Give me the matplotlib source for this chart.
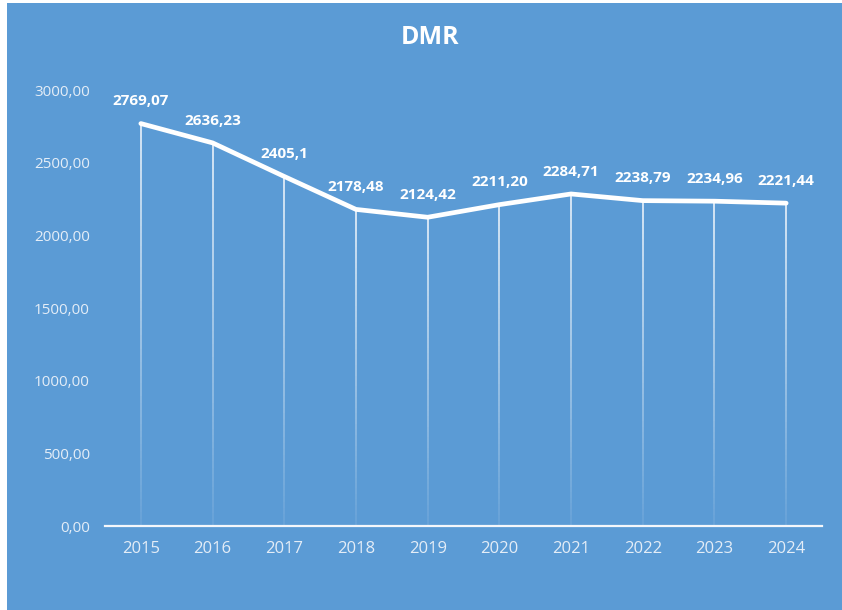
#!/usr/bin/env python3
"""DMR yearly trend, white line on an Excel-style blue panel."""
import matplotlib

matplotlib.use("Agg")
import matplotlib.pyplot as plt  # noqa: E402
import numpy as np  # noqa: E402
from matplotlib.collections import LineCollection  # noqa: E402
from matplotlib.patches import Rectangle  # noqa: E402

years = ["2015", "2016", "2017", "2018", "2019", "2020", "2021", "2022", "2023", "2024"]
values = [2769.07, 2636.23, 2405.10, 2178.48, 2124.42, 2211.20, 2284.71, 2238.79, 2234.96, 2221.44]
value_labels = ["2769,07", "2636,23", "2405,1", "2178,48", "2124,42",
                "2211,20", "2284,71", "2238,79", "2234,96", "2221,44"]
y_ticks = [0, 500, 1000, 1500, 2000, 2500, 3000]

BLUE = "#5b9bd5"
TICK = "#e4edf7"
plt.rcParams["font.family"] = ["Open Sans", "DejaVu Sans"]

fig = plt.figure(figsize=(8.42, 6.10), dpi=100, facecolor="white")
fig.patches.append(Rectangle((7 / 842, 0), 1, 1 - 3 / 610, transform=fig.transFigure,
                             facecolor=BLUE, edgecolor="none", zorder=-5))
ax = fig.add_axes([105 / 842, 1 - 526 / 610, (822 - 105) / 842, (526 - 90) / 610])
ax.set_facecolor("none")

x = np.arange(len(years))

# drop lines fading out toward the axis
segs, cols = [], []
for xi, v in zip(x, values):
    ys = np.linspace(v, 0, 60)
    for a, (y0, y1) in enumerate(zip(ys[:-1], ys[1:])):
        segs.append([(xi, y0), (xi, y1)])
        cols.append((1, 1, 1, 0.95 - 0.85 * a / 58))
ax.add_collection(LineCollection(segs, colors=cols, linewidths=1.1, zorder=2))

ax.plot(x, values, color="white", linewidth=3.4, solid_capstyle="round",
        solid_joinstyle="round", zorder=3)

for xi, v, lab in zip(x, values, value_labels):
    ax.annotate(lab, (xi, v), xytext=(0, 16), textcoords="offset points",
                ha="center", va="center", fontsize=11, fontweight="bold", color="white")

ax.set_xlim(-0.5, len(years) - 0.5)
ax.set_ylim(0, 3000)
ax.set_xticks(x)
ax.set_xticklabels(years, fontsize=12, color=TICK)
ax.set_yticks(y_ticks)
ax.set_yticklabels([f"{t:.2f}".replace(".", ",") for t in y_ticks], fontsize=11, color=TICK)
ax.tick_params(axis="both", length=0)
ax.tick_params(axis="y", pad=11)
ax.tick_params(axis="x", pad=11)

for side in ("top", "right", "left"):
    ax.spines[side].set_visible(False)
ax.spines["bottom"].set_color("#f4f7fb")
ax.spines["bottom"].set_linewidth(1.6)

fig.text(430 / 842, 1 - 37 / 610, "DMR", ha="center", va="center",
         fontsize=18, fontweight="bold", color="white")

fig.savefig("out.png", dpi=100, facecolor=fig.get_facecolor())
